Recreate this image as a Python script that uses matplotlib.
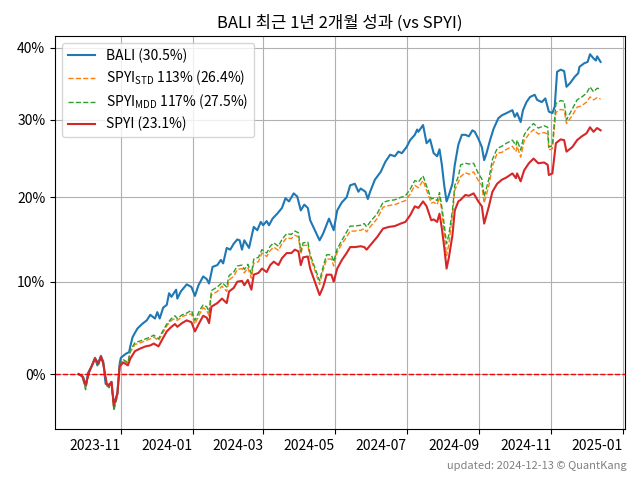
import matplotlib
matplotlib.use("Agg")
import matplotlib.pyplot as plt
import matplotlib.dates as mdates
from matplotlib.ticker import FixedLocator, NullLocator
import pandas as pd

plt.rcParams['font.family'] = ['Noto Sans CJK KR', 'DejaVu Sans']
plt.rcParams['mathtext.default'] = 'regular'
plt.rcParams['axes.unicode_minus'] = False

start_date = "2023-09-26"

# BALI: calendar-day offsets from start_date and cumulative return (%)
bali_days = [0, 4, 6, 8, 11, 14, 16, 19, 21, 23, 26, 28, 30, 33, 35, 36, 40, 43, 44, 46,
             50, 54, 58, 61, 65, 67, 69, 72, 75, 77, 79, 83, 84, 87, 92, 96, 99, 102, 106, 109,
             111, 114, 118, 121, 123, 126, 129, 132, 135, 137, 139, 141, 145, 149, 152, 155, 157, 160, 162, 165,
             169, 173, 176, 179, 183, 186, 189, 192, 195, 197, 201, 205, 208, 213, 217, 220, 224, 228, 231, 235,
             238, 240, 244, 246, 248, 252, 257, 261, 265, 269, 272, 275, 279, 282, 286, 288, 289, 293, 296, 299,
             302, 305, 307, 309, 311, 313, 315, 318, 320, 323, 326, 329, 332, 335, 337, 340, 343, 345, 347, 350,
             353, 357, 360, 364, 369, 371, 373, 376, 378, 381, 384, 388, 390, 394, 397, 400, 403, 405, 407, 410,
             413, 415, 418, 422, 425, 426, 430, 433, 435, 438, 440, 441, 444]
bali_ret = [0.0, -0.3, -1.3, 0.1, 0.8, 1.7, 0.9, 1.9, 1.3, -1.0, -1.1, -0.8, -3.1, -2.0, 1.1, 1.7, 2.1, 2.3, 2.9, 3.9,
            4.8, 5.3, 5.7, 6.3, 5.9, 6.6, 5.9, 7.1, 7.4, 8.7, 8.3, 9.1, 8.1, 8.9, 9.7, 9.4, 8.4, 9.6, 10.6, 10.3,
            9.8, 11.7, 11.9, 12.5, 12.1, 13.9, 13.7, 14.4, 14.9, 14.8, 13.7, 14.8, 13.9, 16.4, 16.0, 17.0, 16.6, 17.1, 16.6, 17.4,
            18.0, 18.7, 19.9, 19.5, 20.5, 20.1, 18.4, 19.1, 18.7, 17.2, 16.0, 14.8, 15.6, 17.4, 16.0, 18.4, 19.4, 20.0, 21.5, 21.7,
            20.7, 21.1, 20.7, 19.8, 20.7, 22.2, 23.2, 24.5, 25.4, 25.2, 25.8, 25.6, 26.4, 27.3, 28.0, 28.7, 28.4, 29.3, 26.9, 27.4,
            25.6, 25.2, 26.1, 24.1, 21.5, 19.5, 20.3, 21.7, 24.1, 26.7, 28.0, 28.0, 27.8, 28.6, 28.4, 27.5, 26.4, 24.7, 25.6, 27.3,
            28.8, 30.2, 30.6, 30.9, 31.3, 30.4, 30.9, 29.7, 31.3, 32.4, 33.1, 33.4, 32.7, 32.4, 32.9, 31.1, 30.9, 31.8, 36.6, 36.9,
            36.7, 34.5, 35.0, 35.9, 36.4, 37.3, 37.8, 38.0, 39.1, 38.5, 38.2, 38.8, 38.0]

# SPYI family: calendar-day offsets and cumulative returns (%)
spyi_days = [0, 3, 6, 9, 14, 17, 19, 21, 24, 26, 28, 30, 33, 35, 38, 42, 44, 48, 53, 57,
             61, 64, 68, 71, 75, 79, 82, 84, 88, 92, 96, 99, 103, 106, 109, 111, 113, 118, 122, 126,
             128, 132, 135, 139, 141, 144, 147, 149, 153, 156, 160, 163, 166, 170, 173, 177, 181, 184, 187, 189,
             191, 195, 197, 201, 205, 208, 211, 215, 217, 220, 224, 228, 231, 235, 240, 243, 245, 248, 254, 259,
             264, 269, 274, 278, 282, 286, 289, 293, 296, 300, 302, 305, 307, 309, 311, 313, 315, 318, 320, 323,
             325, 329, 332, 336, 340, 343, 345, 349, 352, 356, 360, 364, 369, 372, 373, 376, 379, 383, 387, 391,
             396, 399, 400, 403, 406, 410, 413, 415, 420, 424, 428, 432, 435, 438, 441, 444]
spyi_ret = [0.0, -0.2, -1.1, 0.2, 1.6, 1.1, 1.8, 1.1, -1.0, -1.2, -0.8, -3.2, -2.0, 0.8, 1.2, 0.9, 1.6, 2.4, 2.7, 2.9,
            3.0, 3.2, 2.9, 3.6, 4.5, 5.0, 5.3, 5.0, 5.4, 5.7, 5.5, 4.5, 5.5, 6.2, 6.0, 5.4, 7.2, 7.6, 8.1, 7.6,
            8.9, 9.3, 10.0, 10.1, 9.6, 10.2, 9.1, 10.8, 11.0, 11.5, 11.1, 11.9, 12.3, 11.9, 12.7, 13.3, 13.3, 13.7, 13.5, 11.9,
            12.8, 12.9, 11.5, 10.0, 8.5, 9.4, 10.8, 10.8, 10.0, 11.5, 12.5, 13.3, 14.0, 14.0, 14.1, 14.0, 13.7, 14.2, 15.2, 16.2,
            16.4, 16.5, 16.8, 17.0, 17.8, 18.9, 18.7, 19.5, 18.9, 17.2, 17.3, 17.0, 18.0, 16.2, 14.0, 11.5, 12.8, 15.4, 18.4, 19.5,
            19.7, 20.3, 20.2, 20.5, 19.5, 18.9, 16.8, 18.9, 20.7, 21.7, 22.2, 22.5, 23.0, 22.4, 23.0, 22.0, 23.4, 24.3, 24.9, 24.3,
            24.4, 24.1, 22.8, 23.0, 26.9, 27.4, 27.3, 25.8, 26.4, 27.3, 27.8, 28.2, 29.0, 28.4, 28.9, 28.6]
std_ret = [0.0, -0.2, -1.3, 0.2, 1.6, 1.1, 1.8, 1.1, -1.1, -1.3, -0.9, -3.4, -2.1, 0.9, 1.4, 1.1, 2.3, 3.1, 3.3, 3.5,
           3.7, 3.9, 3.5, 4.2, 5.1, 5.7, 5.9, 5.7, 6.1, 6.3, 6.4, 5.3, 6.4, 7.1, 6.8, 6.2, 8.5, 8.9, 9.5, 8.9,
           10.2, 10.6, 11.4, 11.5, 11.0, 11.6, 10.4, 12.1, 12.3, 13.3, 12.9, 13.6, 14.0, 13.6, 14.4, 15.1, 15.0, 15.4, 15.2, 13.2,
           14.2, 14.2, 12.8, 11.3, 9.7, 11.3, 12.6, 12.6, 11.8, 13.4, 14.4, 15.2, 15.9, 15.9, 16.0, 16.2, 15.8, 16.4, 17.4, 18.8,
           19.0, 19.1, 19.4, 19.6, 20.4, 21.5, 21.2, 22.1, 20.9, 19.3, 19.4, 19.1, 20.1, 18.3, 15.6, 13.0, 14.4, 17.8, 20.9, 21.9,
           22.6, 23.1, 22.9, 23.2, 22.1, 21.5, 19.3, 21.5, 23.9, 25.6, 25.7, 26.1, 26.5, 25.8, 26.5, 25.1, 27.2, 28.1, 28.7, 28.1,
           28.3, 28.1, 26.0, 26.2, 31.0, 31.4, 31.3, 29.5, 30.6, 31.7, 31.9, 32.4, 33.1, 32.7, 33.0, 32.8]
mdd_ret = [0.0, -0.2, -1.6, 0.2, 1.7, 1.0, 1.8, 1.1, -1.2, -1.4, -1.0, -3.7, -2.3, 1.0, 1.5, 1.2, 2.5, 3.3, 3.5, 3.7,
           3.9, 4.1, 3.7, 4.4, 5.3, 5.9, 6.2, 5.9, 6.3, 6.5, 6.8, 5.7, 6.8, 7.4, 7.2, 6.6, 9.0, 9.4, 9.9, 9.4,
           10.7, 11.1, 11.8, 11.9, 11.4, 12.0, 10.9, 12.6, 12.8, 13.7, 13.3, 14.1, 14.5, 14.1, 14.9, 15.6, 15.5, 15.9, 15.7, 13.5,
           14.5, 14.6, 13.1, 11.6, 10.1, 11.7, 13.1, 13.1, 12.3, 13.8, 14.8, 15.8, 16.5, 16.5, 16.6, 16.8, 16.4, 17.0, 18.0, 19.4,
           19.6, 19.7, 20.0, 20.2, 21.0, 22.1, 21.9, 22.7, 21.4, 19.8, 19.9, 19.6, 20.6, 18.8, 16.7, 14.4, 15.5, 18.4, 21.5, 22.6,
           24.1, 24.3, 24.2, 24.3, 23.0, 22.3, 20.1, 22.3, 24.8, 26.2, 26.5, 26.9, 27.3, 26.6, 27.3, 26.0, 28.0, 28.9, 29.5, 28.9,
           29.2, 29.0, 26.4, 26.6, 32.2, 32.6, 32.5, 30.0, 31.5, 32.7, 33.1, 33.6, 34.5, 33.8, 34.3, 34.2]

labels = ["BALI (30.5%)", "SPYI$_{STD}$ 113% (26.4%)", "SPYI$_{MDD}$ 117% (27.5%)", "SPYI (23.1%)"]
yticks_pct = [0, 10, 20, 30, 40]
title = "BALI 최근 1년 2개월 성과 (vs SPYI)"
footer = "updated: 2024-12-13 © QuantKang"

base = pd.Timestamp(start_date)
bali_dates = base + pd.to_timedelta(bali_days, unit="D")
spyi_dates = base + pd.to_timedelta(spyi_days, unit="D")

def growth(vals):
    return [1 + v / 100.0 for v in vals]

fig = plt.figure(figsize=(6.4, 4.8), dpi=100)
ax = fig.add_axes([0.086, 0.106, 0.891, 0.819])

ax.plot(bali_dates, growth(bali_ret), color="tab:blue", lw=1.5, label=labels[0])
ax.plot(spyi_dates, growth(std_ret), color="tab:orange", lw=1.0, ls="--", label=labels[1])
ax.plot(spyi_dates, growth(mdd_ret), color="tab:green", lw=1.0, ls="--", label=labels[2])
ax.plot(spyi_dates, growth(spyi_ret), color="tab:red", lw=1.5, label=labels[3])
ax.axhline(1.0, color="red", ls="--", lw=1.0)

ax.set_yscale("log")
ax.yaxis.set_major_locator(FixedLocator([1 + t / 100 for t in yticks_pct]))
ax.yaxis.set_minor_locator(NullLocator())
ax.set_yticklabels([f"{t}%" for t in yticks_pct])
ax.set_ylim(0.9448, 1.4174)

ax.xaxis.set_major_locator(mdates.MonthLocator(bymonth=[1, 3, 5, 7, 9, 11]))
ax.xaxis.set_major_formatter(mdates.DateFormatter("%Y-%m"))
ax.set_xlim(base - pd.Timedelta(days=20), base + pd.Timedelta(days=465))
plt.setp(ax.get_xticklabels(), ha="right", rotation=0)

ax.grid(True, color="#b0b0b0", lw=0.8)
ax.set_title(title, fontsize=12)
ax.legend(loc="upper left", fontsize=10, labelspacing=0.4)
fig.text(0.98, 0.018, footer, ha="right", va="bottom", fontsize=8, color="grey")

fig.savefig("out.png", dpi=100)
